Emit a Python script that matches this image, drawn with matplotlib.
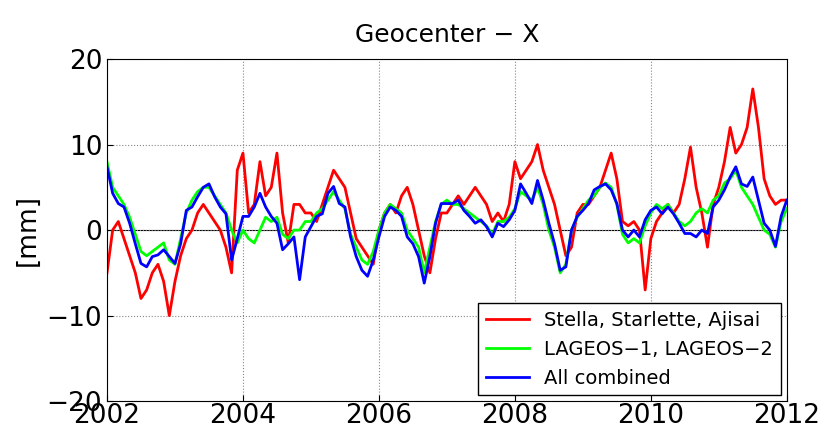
import numpy as np
import matplotlib
matplotlib.use("Agg")
from matplotlib import pyplot

# monthly samples, 2002.0 .. 2012.0
years = 2002 + np.arange(121) / 12.0

stella = [-5, 0, 1, -1, -3, -5, -8, -7, -5, -4, -6, -10,
          -6, -3, -1, 0, 2, 3, 2, 1, 0, -2, -5, 7,
          9, 2, 3, 8, 4, 5, 9, 2, -1.5, 3, 3, 2,
          2, 1, 3, 5, 7, 6, 5, 2, -1, -2, -3, -4,
          0, 2, 3, 2, 4, 5, 3, 0, -3, -5, -1, 2,
          2, 3, 4, 3, 4, 5, 4, 3, 1, 2, 1, 3,
          8, 6, 7, 8, 10, 7, 5, 3, 0, -3, -2, 2,
          3, 3, 4, 5, 7, 9, 6, 1, 0.5, 1, 0, -7,
          -1, 1, 2, 3, 2, 3, 6, 9.7, 5, 2, -2, 3,
          5, 8, 12, 9, 10, 12, 16.5, 12, 6, 4, 3, 3.5,
          3.5]
lageos = [8, 5, 4, 3, 1.5, -0.5, -2.5, -3, -2.5, -2, -1.5, -3.5,
          -4, -1, 2, 3.5, 4.5, 5, 5, 4, 3, 2, 0, -1.5,
          0, -1, -1.5, 0, 1.5, 1, 1.5, -0.5, -1, 0, 0, 1,
          1, 2, 2.5, 3.5, 4.5, 3.5, 2.5, -0.5, -2, -3.5, -4, -2.5,
          0, 2, 3, 2.5, 2, 0, -1, -2, -5, -2, 1, 3,
          3.5, 3, 3, 2.5, 2, 1.5, 1, 0.5, -0.5, 1, 1, 1.5,
          2.5, 4.5, 4, 3.5, 5, 3, 0, -2, -5, -4, 0, 1.5,
          2.5, 3.5, 4, 5, 5.5, 5, 3, -0.5, -1.5, -1, -1.5, 0.5,
          2, 3, 2.5, 3, 2, 1, 0.5, 1, 2, 2.5, 2, 3.5,
          4, 5.5, 6, 7, 5, 4, 3, 1.5, 0, -0.5, -2, 1,
          2.5]
combined = [7.4, 4.3, 3.1, 2.7, 0.8, -1.6, -3.9, -4.3, -3.1, -2.9, -2.3, -3.1,
            -3.9, -1.6, 2.3, 2.7, 3.9, 5.0, 5.4, 3.9, 2.7, 1.9, -3.5, -1.0,
            1.6, 1.6, 2.7, 4.3, 2.7, 1.6, 0.8, -2.3, -1.6, -0.8, -5.8, -0.8,
            0.4, 1.6, 1.9, 4.3, 5.1, 3.1, 2.7, -0.8, -3.1, -4.7, -5.4, -3.5,
            -0.8, 1.6, 2.7, 2.3, 1.6, -0.8, -1.6, -3.1, -6.2, -3.1, 0.8, 3.1,
            3.1, 3.1, 3.5, 2.3, 1.6, 0.8, 1.2, 0.4, -0.8, 0.8, 0.4, 1.2,
            2.3, 5.4, 4.3, 3.1, 5.8, 3.5, 0.8, -1.6, -4.7, -4.3, 0, 1.6,
            2.3, 3.1, 4.7, 5.1, 5.4, 4.7, 3.1, 0, -0.8, 0, -0.8, 1.2,
            2.3, 2.7, 1.9, 2.7, 1.9, 0.8, -0.4, -0.4, -0.8, 0, -0.4, 2.7,
            3.5, 4.7, 6.2, 7.4, 5.4, 5.1, 6.2, 3.5, 0.8, 0, -1.9, 1.6,
            3.5]

fig = pyplot.figure(figsize=(8.23, 4.37), dpi=100)
ax = fig.add_axes([0.130, 0.082, 0.826, 0.783])
ax.axhline(0, color="black", linewidth=0.8, zorder=1)
ax.plot(years, stella, color="#ff0000", linewidth=2, label="Stella, Starlette, Ajisai")
ax.plot(years, lageos, color="#00ff00", linewidth=2, label="LAGEOS\u22121, LAGEOS\u22122")
ax.plot(years, combined, color="#0000ff", linewidth=2, label="All combined")

ax.set_xlim(2002, 2012)
ax.set_ylim(-20, 20)
ax.set_xticks([2002, 2004, 2006, 2008, 2010, 2012])
ax.set_yticks([-20, -10, 0, 10, 20])
ax.set_yticklabels(["\u221220", "\u221210", "0", "10", "20"])
ax.tick_params(labelsize=19, direction="in", length=4)
ax.tick_params(axis="x", pad=1)
ax.grid(True, linestyle=":", color="#888888", linewidth=0.8)
ax.set_ylabel("[mm]", fontsize=19)
ax.set_title("Geocenter \u2212 X", fontsize=18, pad=12)
ax.legend(loc="lower right", fontsize=14, fancybox=False, edgecolor="black",
          framealpha=1, handlelength=2.2, borderaxespad=0.3)

pyplot.savefig("out.png")
